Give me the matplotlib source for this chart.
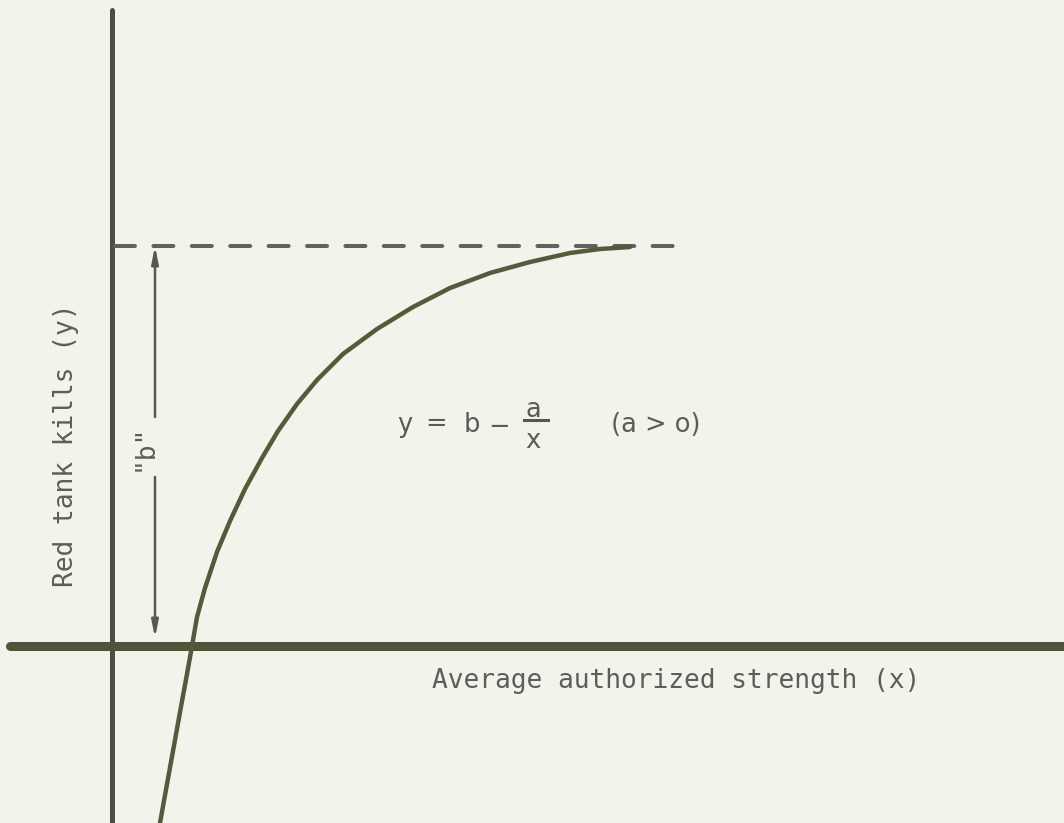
import matplotlib
matplotlib.use("Agg")
import matplotlib.pyplot as plt

plt.rcParams['lines.scale_dashes'] = False

# asymptote level "b" and the curve traced for y = b - a/x
b_level = 4.0
curve_x = [0.48, 0.59, 0.695, 0.75, 0.80, 0.85, 0.93, 1.05, 1.18, 1.33, 1.50, 1.66,
           1.85, 2.05, 2.31, 2.65, 3.01, 3.38, 3.78, 4.18, 4.58, 4.88, 5.18]
curve_y = [-1.77, -1.16, -0.58, -0.28, 0.00, 0.29, 0.58, 0.94, 1.25, 1.57, 1.88, 2.15,
           2.42, 2.66, 2.92, 3.17, 3.39, 3.58, 3.73, 3.84, 3.93, 3.97, 3.99]
dash_start, dash_end = 0.03, 5.62
arrow_x = 0.43

x_label = "Average authorized strength (x)"
y_label = "Red tank kills (y)"

bg = '#f2f3ea'
fig = plt.figure(figsize=(10.64, 8.23), dpi=100, facecolor=bg)
ax = fig.add_axes([0, 0, 1, 1], facecolor=bg)
ax.set_xlim(-1.12, 9.52)
ax.set_ylim(-1.77, 6.46)
ax.axis('off')

# axes of the sketch
ax.plot([0, 0], [-1.9, 6.36], color='#4b4e44', lw=3.6, solid_capstyle='round')
ax.plot([-1.02, 9.7], [0, 0], color='#4f5337', lw=6.5, solid_capstyle='round')

# asymptote
ax.plot([dash_start, dash_end], [b_level, b_level], color='#606260', lw=2.9,
        linestyle=(0, (14.4, 13.25)), dash_capstyle='round')

# response curve
ax.plot(curve_x, curve_y, color='#555a3a', lw=3.2, solid_capstyle='round',
        solid_joinstyle='round')

# "b" dimension arrow
arrow = dict(arrowstyle='-|>,head_length=1.0,head_width=0.2', color='#57594f',
             lw=1.8, shrinkA=0, shrinkB=0)
ax.annotate('', xy=(arrow_x, b_level), xytext=(arrow_x, 2.29), arrowprops=arrow)
ax.annotate('', xy=(arrow_x, 0.08), xytext=(arrow_x, 1.69), arrowprops=arrow)
ax.text(0.40, 1.99, '"b"', rotation=90, rotation_mode='anchor', ha='center',
        va='baseline', family='DejaVu Sans Mono', fontsize=18.9, color='#5c5e58')

# axis labels
ax.text(5.64, -0.42, x_label, ha='center', va='baseline',
        family='DejaVu Sans Mono', fontsize=18.9, color='#5c5e58')
ax.text(-0.39, 2.01, y_label, rotation=90, rotation_mode='anchor', ha='center',
        va='baseline', family='DejaVu Sans Mono', fontsize=18.9, color='#5c5e58')

# equation
eq = dict(family='DejaVu Sans', fontsize=18.5, color='#5a5c55')
ax.text(2.93, 2.14, 'y', ha='center', va='baseline', **eq)
ax.text(3.24, 2.22, '=', ha='center', va='center', **eq)
ax.text(3.60, 2.14, 'b', ha='center', va='baseline', **eq)
ax.text(3.87, 2.19, '\u2212', ha='center', va='center', **eq)
ax.text(4.21, 2.29, 'a', ha='center', va='baseline', **eq)
ax.plot([4.12, 4.36], [2.26, 2.26], color='#55584a', lw=2.2)
ax.text(4.21, 1.98, 'x', ha='center', va='baseline', **eq)
ax.text(5.44, 2.14, '(a > o)', ha='center', va='baseline', **eq)

fig.savefig('out.png', dpi=100, facecolor=bg)
